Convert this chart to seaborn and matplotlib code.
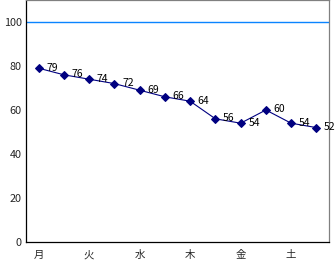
import matplotlib
matplotlib.use("Agg")
import matplotlib.pyplot as plt
import seaborn as sns
import pandas as pd
import numpy as np

values = [79, 76, 74, 72, 69, 66, 64, 56, 54, 60, 54, 52]
day_labels = ["月", "", "火", "", "水", "", "木", "", "金", "", "土", ""]
y_ticks = [0, 20, 40, 60, 80, 100]
ref_value = 100

sns.set_style("white")
plt.rcParams['font.family'] = ['Noto Sans CJK JP', 'DejaVu Sans']

df = pd.DataFrame({"idx": np.arange(len(values)), "value": values})

fig = plt.figure(figsize=(3.35, 2.62), dpi=100)
ax = fig.add_axes([26/335, 20/262, 303/335, 242/262])

ax.axhline(ref_value, color="#0A84FF", lw=1.0, zorder=1)
sns.lineplot(data=df, x="idx", y="value", ax=ax, color="#000080", lw=0.8,
             marker="D", markersize=4.5, markeredgecolor="#000080", zorder=3)

for i, v in enumerate(values):
    ax.annotate(str(v), (i, v), xytext=(5.5, 0.5), textcoords="offset points",
                ha="left", va="center", fontsize=7.5, color="#000000")

ax.set_xlim(-0.5, len(values) - 0.5)
ax.set_ylim(0, 110)
ax.set_yticks(y_ticks)
ax.set_yticklabels([str(t) for t in y_ticks], fontsize=7.8)
ax.set_xticks(range(len(values)))
ax.set_xticklabels(day_labels, fontsize=7.5)
ax.set_xticks(np.arange(-0.5, len(values), 1), minor=True)
ax.tick_params(axis="x", which="major", length=0, pad=6)
ax.tick_params(axis="x", which="minor", direction="in", length=3, width=0.8, color="black")
ax.tick_params(axis="y", length=0, pad=3)
ax.set_xlabel("")
ax.set_ylabel("")

for side in ["left", "bottom"]:
    ax.spines[side].set_color("black")
    ax.spines[side].set_linewidth(0.9)
for side in ["top", "right"]:
    ax.spines[side].set_color("#808080")
    ax.spines[side].set_linewidth(0.9)

fig.savefig("out.png", dpi=100)
